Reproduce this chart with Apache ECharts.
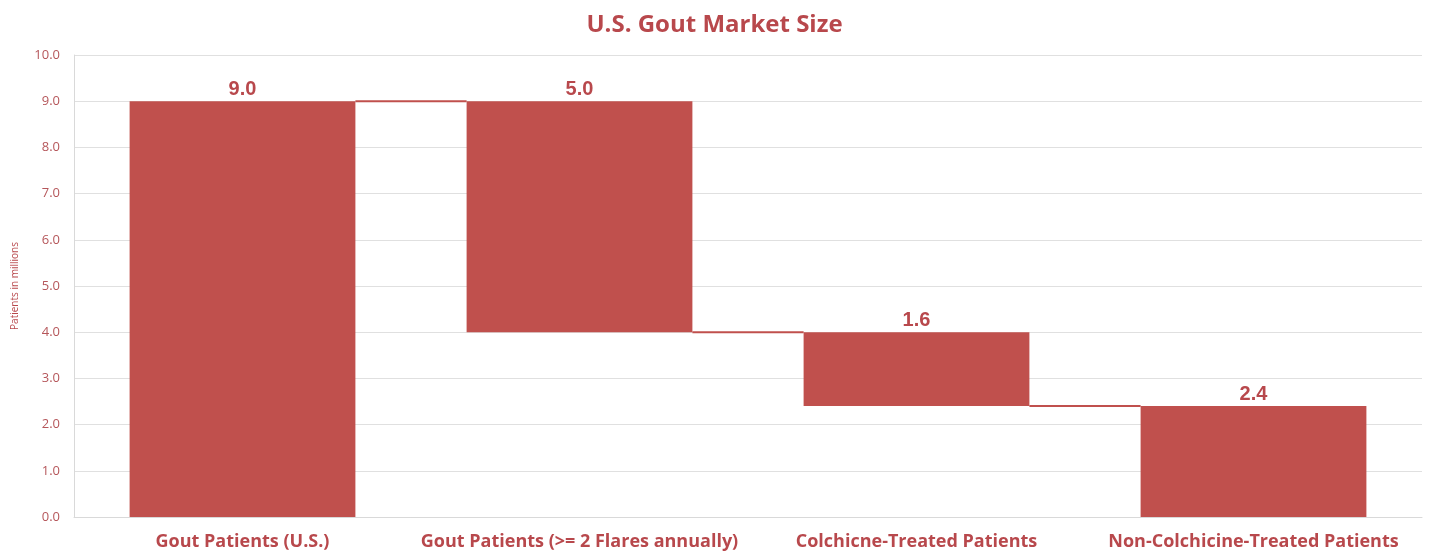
<!DOCTYPE html>
<html>
<head>
<meta charset="utf-8">
<title>U.S. Gout Market Size</title>
<script src="https://cdn.jsdelivr.net/npm/echarts@6/dist/echarts.min.js"></script>
<style>
  html, body { margin: 0; padding: 0; background: #ffffff; }
  #chart { width: 1429px; height: 559px; }
</style>
</head>
<body>
<div id="chart"></div>
<script>
// Patient funnel (millions): total, then successive breakdowns
const categories = [
  'Gout Patients (U.S.)',
  'Gout Patients (>= 2 Flares annually)',
  'Colchicne-Treated Patients',
  'Non-Colchicine-Treated Patients'
];
const values = [9.0, 5.0, 1.6, 2.4];
// floating bars start at these levels (first and last bars sit on zero)
const bases = [0, 4.0, 2.4, 0];
const yTicks = [0, 10, 1];

const red = '#c0504d';
const textRed = '#b8484c';

// level each connector runs at: the top of the next bar
const connectorLevels = bases.map((b, i) => b + values[i]).slice(1);
const connectors = connectorLevels.map((lvl, i) => [i, lvl]);

const BAR_RATIO = 0.67;

const chart = echarts.init(document.getElementById('chart'));
chart.setOption({
  backgroundColor: '#ffffff',
  animation: false,
  title: {
    text: 'U.S. Gout Market Size',
    left: 'center',
    top: 8,
    textStyle: { color: textRed, fontSize: 24, fontWeight: 'bold', fontFamily: 'Open Sans' }
  },
  grid: { left: 74, right: 7, top: 55, bottom: 42 },
  xAxis: {
    type: 'category',
    data: categories,
    axisLine: { show: true, lineStyle: { color: '#d9d9d9' } },
    axisTick: { show: false },
    axisLabel: {
      color: textRed, fontSize: 18, fontWeight: 'bold', fontFamily: 'Open Sans',
      margin: 16, interval: 0
    }
  },
  yAxis: {
    type: 'value',
    min: yTicks[0], max: yTicks[1], interval: yTicks[2],
    name: 'Patients in millions',
    nameLocation: 'middle',
    nameGap: 54,
    nameTextStyle: { color: textRed, fontSize: 10, fontFamily: 'Open Sans' },
    axisLine: { show: true, lineStyle: { color: '#d9d9d9' } },
    axisTick: { show: false },
    splitLine: { lineStyle: { color: '#e0e0e0' } },
    axisLabel: {
      color: '#b5565a', fontSize: 13, fontFamily: 'Open Sans', margin: 14,
      formatter: v => v.toFixed(1)
    }
  },
  series: [
    {
      name: 'base',
      type: 'bar',
      stack: 'wf',
      barWidth: (BAR_RATIO * 100) + '%',
      itemStyle: { color: 'transparent' },
      emphasis: { disabled: true },
      data: bases
    },
    {
      name: 'value',
      type: 'bar',
      stack: 'wf',
      barWidth: (BAR_RATIO * 100) + '%',
      itemStyle: { color: red },
      label: {
        show: true,
        position: 'top',
        distance: 2,
        color: textRed,
        fontSize: 20,
        fontWeight: 'bold',
        fontFamily: 'Liberation Sans',
        formatter: p => p.value.toFixed(1)
      },
      data: values
    },
    {
      name: 'connector',
      type: 'custom',
      silent: true,
      z: 1,
      renderItem: (params, api) => {
        const i = api.value(0);
        const lvl = api.value(1);
        const band = api.size([1, 0])[0];
        const half = band * BAR_RATIO / 2;
        const a = api.coord([i, lvl]);
        const b = api.coord([i + 1, lvl]);
        return {
          type: 'line',
          shape: { x1: a[0] + half, y1: a[1], x2: b[0] - half, y2: b[1] },
          style: { stroke: red, lineWidth: 2 }
        };
      },
      data: connectors
    }
  ]
});
</script>
</body>
</html>
